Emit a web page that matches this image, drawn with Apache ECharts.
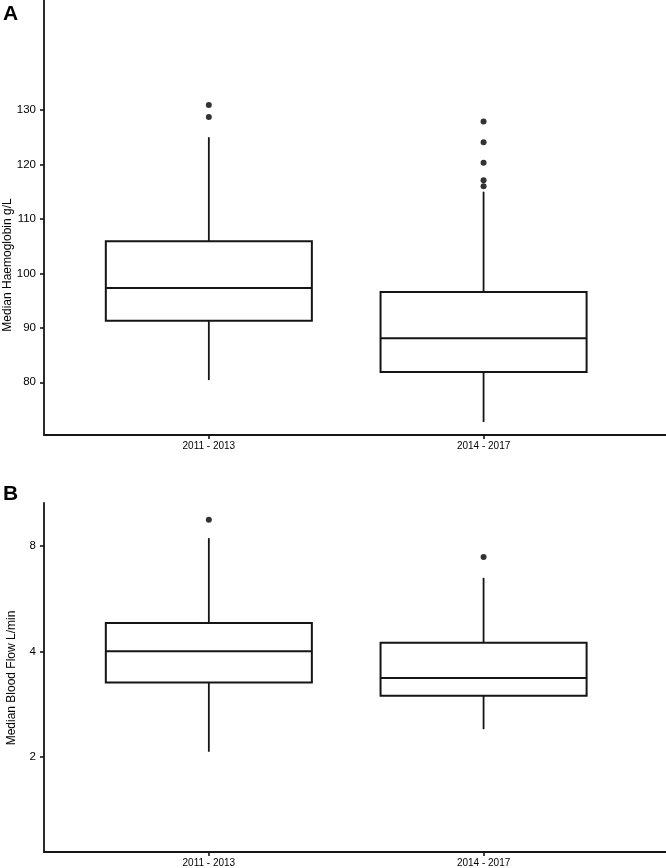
<!DOCTYPE html>
<html>
<head>
<meta charset="utf-8">
<script src="https://cdn.jsdelivr.net/npm/echarts@6/dist/echarts.min.js"></script>
<style>
  html, body { margin: 0; padding: 0; background: #fff; }
  #chart { width: 666px; height: 868px; }
</style>
</head>
<body>
<div id="chart"></div>
<script>
// ---- Data ----
const categories = ['2011 - 2013', '2014 - 2017'];
const categoryPositions = [1, 2];

// Panel A: Median Haemoglobin g/L
const hbLow    = [80.4, 72.7];
const hbQ1     = [91.3, 81.9];
const hbMedian = [97.3, 88.1];
const hbQ3     = [105.9, 96.6];
const hbHigh   = [125.0, 115.0];
const hbOutliers2011 = [128.7, 130.9];
const hbOutliers2014 = [116.0, 117.1, 120.3, 124.1, 127.9];
const hbTicks = [80, 90, 100, 110, 120, 130];

// Panel B: Median Blood Flow L/min (log scale)
const bfLow    = [2.07, 2.40];
const bfQ1     = [3.26, 2.99];
const bfMedian = [4.0, 3.36];
const bfQ3     = [4.82, 4.23];
const bfHigh   = [8.41, 6.48];
const bfOutliers2011 = [9.49];
const bfOutliers2014 = [7.43];
const bfTicks = [2, 4, 8];

// ---- Build ----
const ink = '#151515';
const font = 'Liberation Sans, Arial, Helvetica, sans-serif';
const boxFrac = 0.75;

function boxRows(lo, q1, md, q3, hi) {
  return categoryPositions.map((x, i) => [x, lo[i], q1[i], md[i], q3[i], hi[i]]);
}
function outlierRows(lists) {
  const rows = [];
  lists.forEach((list, i) => list.forEach(v => rows.push([categoryPositions[i], v])));
  return rows;
}

function renderBox(params, api) {
  const x = api.value(0);
  const pLo = api.coord([x, api.value(1)]);
  const pQ1 = api.coord([x, api.value(2)]);
  const pMd = api.coord([x, api.value(3)]);
  const pQ3 = api.coord([x, api.value(4)]);
  const pHi = api.coord([x, api.value(5)]);
  const half = api.size([boxFrac, 0], [x, api.value(3)])[0] / 2;
  const cx = pMd[0];
  const lineStyle = { stroke: ink, lineWidth: 1.8 };
  return {
    type: 'group',
    children: [
      { type: 'line', shape: { x1: cx, y1: pQ3[1], x2: cx, y2: pHi[1] }, style: lineStyle },
      { type: 'line', shape: { x1: cx, y1: pQ1[1], x2: cx, y2: pLo[1] }, style: lineStyle },
      { type: 'rect', shape: { x: cx - half, y: pQ3[1], width: 2 * half, height: pQ1[1] - pQ3[1] },
        style: { stroke: ink, lineWidth: 2, fill: '#fff' } },
      { type: 'line', shape: { x1: cx - half, y1: pMd[1], x2: cx + half, y2: pMd[1] }, style: { stroke: ink, lineWidth: 2 } }
    ]
  };
}

const labelFmt = v => {
  const i = categoryPositions.indexOf(Math.round(v));
  return i >= 0 ? categories[i] : '';
};

function xAxisFor(gridIndex) {
  return {
    gridIndex, type: 'value', min: 0.4, max: 2.664,
    axisLine: { show: true, lineStyle: { color: ink, width: 1.8 } },
    axisTick: { show: true, length: 4, customValues: categoryPositions, lineStyle: { color: ink, width: 1.6 } },
    axisLabel: { customValues: categoryPositions, formatter: labelFmt, color: '#000', fontSize: 10, fontFamily: font, margin: 6 },
    splitLine: { show: false }
  };
}

const chart = echarts.init(document.getElementById('chart'), null, { renderer: 'canvas' });
chart.setOption({
  animation: false,
  backgroundColor: '#fff',
  grid: [
    { left: 44, right: 0, top: 0, height: 435 },
    { left: 44, right: 0, top: 503, height: 349 }
  ],
  xAxis: [xAxisFor(0), xAxisFor(1)],
  yAxis: [
    {
      gridIndex: 0, type: 'value', min: 70.32, max: 150.2,
      axisLine: { show: true, lineStyle: { color: ink, width: 1.8 } },
      axisTick: { show: true, length: 4, customValues: hbTicks, lineStyle: { color: ink, width: 1.6 } },
      axisLabel: { customValues: hbTicks, color: '#000', fontSize: 11.5, fontFamily: font, margin: 8 },
      splitLine: { show: false }
    },
    {
      gridIndex: 1, type: 'log', logBase: 2, min: 1.072, max: 10.59,
      axisLine: { show: true, lineStyle: { color: ink, width: 1.8 } },
      axisTick: { show: true, length: 4, customValues: bfTicks, lineStyle: { color: ink, width: 1.6 } },
      axisLabel: { customValues: bfTicks, color: '#000', fontSize: 11.5, fontFamily: font, margin: 8 },
      splitLine: { show: false }
    }
  ],
  series: [
    {
      type: 'custom', xAxisIndex: 0, yAxisIndex: 0,
      renderItem: renderBox,
      encode: { x: 0, y: [1, 2, 3, 4, 5] },
      data: boxRows(hbLow, hbQ1, hbMedian, hbQ3, hbHigh)
    },
    {
      type: 'scatter', xAxisIndex: 0, yAxisIndex: 0, symbolSize: 6,
      itemStyle: { color: '#000' },
      data: outlierRows([hbOutliers2011, hbOutliers2014])
    },
    {
      type: 'custom', xAxisIndex: 1, yAxisIndex: 1,
      renderItem: renderBox,
      encode: { x: 0, y: [1, 2, 3, 4, 5] },
      data: boxRows(bfLow, bfQ1, bfMedian, bfQ3, bfHigh)
    },
    {
      type: 'scatter', xAxisIndex: 1, yAxisIndex: 1, symbolSize: 6,
      itemStyle: { color: '#000' },
      data: outlierRows([bfOutliers2011, bfOutliers2014])
    }
  ],
  graphic: [
    { type: 'text', left: 3, top: 4, style: { text: 'A', font: 'bold 21px ' + font, fill: '#000' } },
    { type: 'text', left: 3, top: 484, style: { text: 'B', font: 'bold 21px ' + font, fill: '#000' } },
    { type: 'text', x: 8, y: 265, rotation: Math.PI / 2,
      style: { text: 'Median Haemoglobin g/L', font: '12px ' + font, fill: '#000', align: 'center', verticalAlign: 'middle' } },
    { type: 'text', x: 12, y: 678, rotation: Math.PI / 2,
      style: { text: 'Median Blood Flow L/min', font: '12px ' + font, fill: '#000', align: 'center', verticalAlign: 'middle' } }
  ]
});
</script>
</body>
</html>
